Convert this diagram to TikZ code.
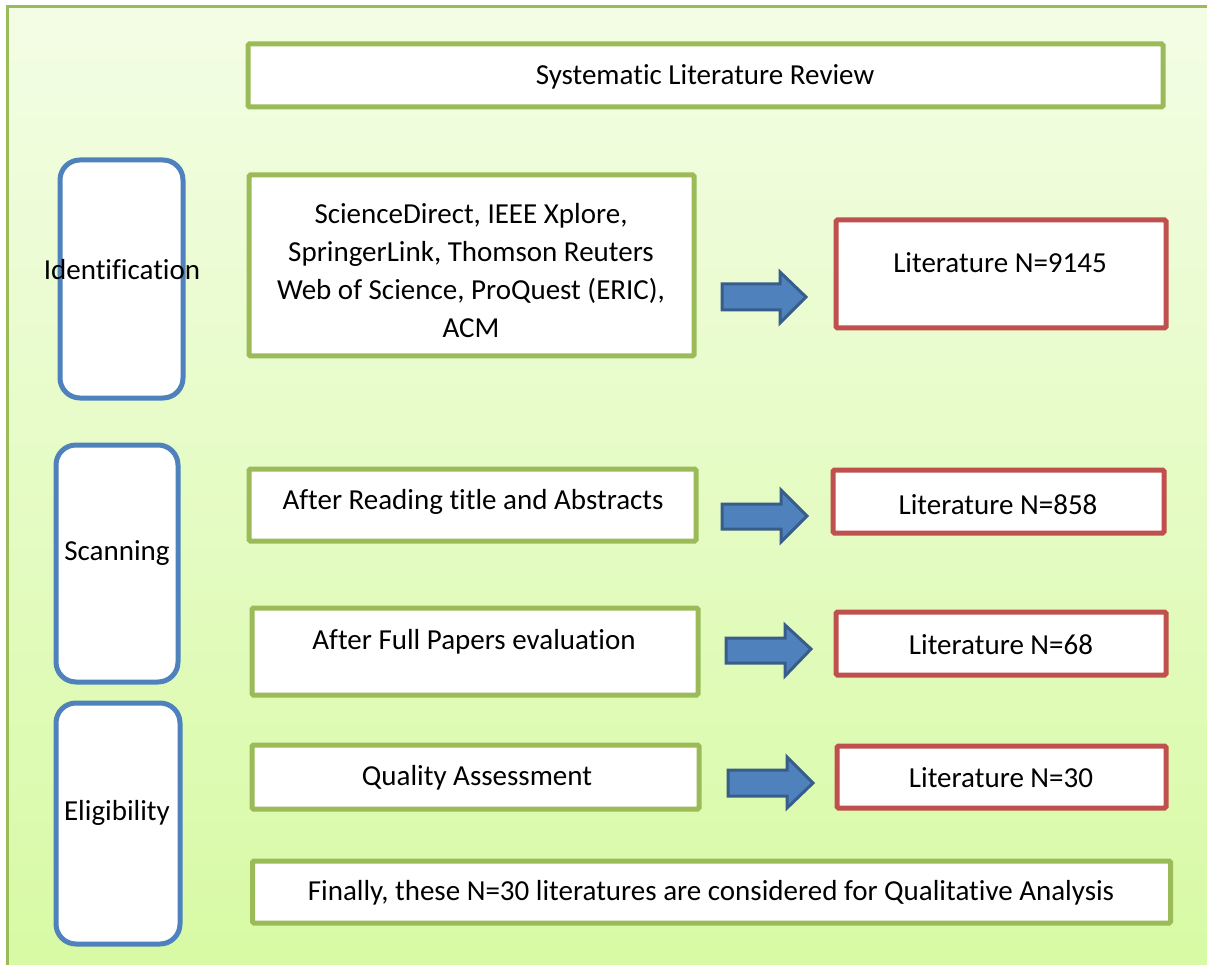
\documentclass[tikz,border=0pt]{standalone}
\usepackage{fontspec}
\setmainfont{Carlito}[Ligatures={NoCommon}]
\definecolor{gbox}{HTML}{9BBB59}
\definecolor{bbox}{HTML}{4F81BD}
\definecolor{rbox}{HTML}{C0504D}
\definecolor{aedge}{HTML}{385D8A}
\definecolor{bgtop}{HTML}{F3FDE5}
\definecolor{bgbot}{HTML}{D7FAA3}
\begin{document}
\begin{tikzpicture}[x=1pt,y=-1pt,
  greenbox/.style={draw=gbox,line width=5pt,fill=white,rounded corners=1.5pt,inner sep=0pt},
  redbox/.style={draw=rbox,line width=5pt,fill=white,rounded corners=1.5pt,inner sep=0pt},
  phasebox/.style={draw=bbox,line width=5pt,fill=white,rounded corners=20pt,inner sep=0pt},
  txt/.style={font=\fontsize{29}{38}\selectfont,inner sep=0pt,align=center},
  blockarrow/.style={fill=bbox,draw=aedge,line width=3pt,line join=miter}]
\useasboundingbox (0,0) rectangle (1207,965);
\begin{scope}
\clip (-10,-10) rectangle (1220,980);
\shade[top color=bgtop,bottom color=bgbot] (7.5,6.5) rectangle (1225,985);
\draw[gbox,line width=2.5pt] (1225,6.5) -- (7.5,6.5) -- (7.5,985);
\end{scope}
% title
\node[greenbox,minimum width=915pt,minimum height=63pt] (title) at (705.5,75.5) {};
\node[txt] (titlet) at (705,77) {Systematic Literature Review};
% phase boxes
\node[phasebox,minimum width=123pt,minimum height=238pt] (ident) at (121.5,279) {};
\node[txt] (identt) at (122,270) {Identification};
\node[phasebox,minimum width=122pt,minimum height=237pt] (scan) at (117,563.5) {};
\node[txt] (scant) at (117,553) {Scanning};
\node[phasebox,minimum width=124pt,minimum height=241pt] (elig) at (118,823.5) {};
\node[txt] (eligt) at (117,813) {Eligibility};
% left column
\node[greenbox,minimum width=445pt,minimum height=181pt] (src) at (471.5,265.5) {};
\node[txt] (srct) at (471,270.5) {ScienceDirect, IEEE Xplore,\\SpringerLink, Thomson Reuters\\Web of Science, ProQuest (ERIC),\\ACM};
\node[greenbox,minimum width=447pt,minimum height=72pt] (read) at (472.5,505) {};
\node[txt] (readt) at (473,502) {After Reading title and Abstracts};
\node[greenbox,minimum width=446pt,minimum height=87pt] (full) at (475,651.5) {};
\node[txt] (fullt) at (474,642) {After Full Papers evaluation};
\node[greenbox,minimum width=447pt,minimum height=64pt] (qual) at (475.5,777) {};
\node[txt] (qualt) at (477,778) {Quality Assessment};
% right column
\node[redbox,minimum width=330pt,minimum height=108pt] (l1) at (1001,274) {};
\node[txt] (l1t) at (1000,263) {Literature N=9145};
\node[redbox,minimum width=331pt,minimum height=63pt] (l2) at (998.5,501.5) {};
\node[txt] (l2t) at (998,505) {Literature N=858};
\node[redbox,minimum width=330pt,minimum height=63pt] (l3) at (1001,643.5) {};
\node[txt] (l3t) at (1001,645) {Literature N=68};
\node[redbox,minimum width=329pt,minimum height=62pt] (l4) at (1001.5,777) {};
\node[txt] (l4t) at (1001,778) {Literature N=30};
% final
\node[greenbox,minimum width=918pt,minimum height=62pt] (fin) at (711.5,892) {};
\node[txt] (fint) at (711,893) {Finally, these N=30 literatures are considered for Qualitative Analysis};
% block arrows
\draw[blockarrow] (722,284) -- (780,284) -- (780,272) -- (806,297) -- (780,323) -- (780,310) -- (722,310) -- cycle;
\draw[blockarrow] (722,504) -- (781,504) -- (781,490) -- (807,516) -- (781,542) -- (781,529) -- (722,529) -- cycle;
\draw[blockarrow] (726,638) -- (785,638) -- (785,625) -- (811,649) -- (785,676) -- (785,663) -- (726,663) -- cycle;
\draw[blockarrow] (728,770) -- (787,770) -- (787,757) -- (813,783) -- (787,808) -- (787,796) -- (728,796) -- cycle;
\end{tikzpicture}
\end{document}
